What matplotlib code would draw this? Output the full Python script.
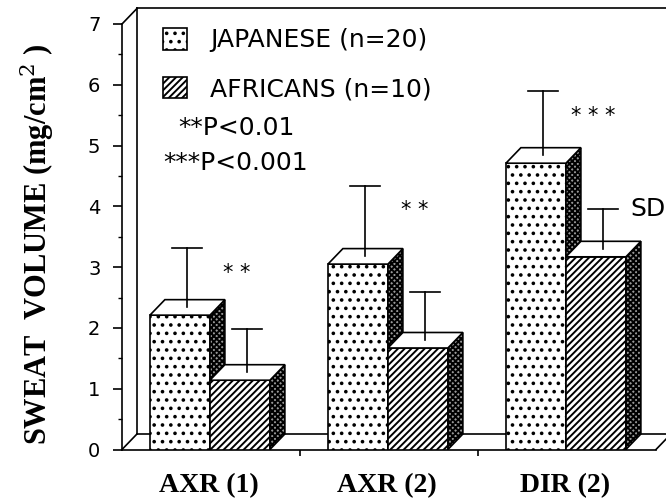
import matplotlib
matplotlib.use('Agg')
import matplotlib.pyplot as plt
import numpy as np
from matplotlib.patches import Rectangle, Polygon, Patch
from matplotlib.ticker import MultipleLocator

plt.rcParams.update({'font.family': 'DejaVu Sans', 'hatch.linewidth': 1.4})

# data
groups = ['AXR (1)', 'AXR (2)', 'DIR (2)']
japanese_mean = [2.21, 3.05, 4.71]
japanese_sd = [1.10, 1.29, 1.18]
african_mean = [1.14, 1.67, 3.17]
african_sd = [0.84, 0.92, 0.79]
signif = ['* *', '* *', '* * *']
series_labels = ['JAPANESE (n=20)', 'AFRICANS (n=10)']

# pseudo-3D depth offset (data units) and bar geometry
DX, DY = 0.084, 0.255
BAR_W = 0.337
CAP = 0.084
LW = 1.2

fig = plt.figure(figsize=(6.66, 5.01), dpi=100)
ax = fig.add_axes([122 / 666, 51.5 / 501, 534 / 666, 425.5 / 501])
ax.set_xlim(0, 3)
ax.set_ylim(0, 7)

# back wall and floor
line_kw = dict(color='black', lw=LW, clip_on=False, zorder=1)
ax.plot([0, DX], [7, 7 + DY], **line_kw)
ax.plot([0, DX], [0, DY], **line_kw)
ax.plot([DX, DX], [DY, 7 + DY], **line_kw)
ax.plot([DX, 3 + DX + 0.2], [7 + DY, 7 + DY], **line_kw)
ax.plot([DX, 3 + DX], [DY, DY], **line_kw)
ax.plot([3, 3 + DX], [0, DY], **line_kw)


def draw_bar(x, h, hatch):
    front = Rectangle((x, 0), BAR_W, h, facecolor='white', edgecolor='black',
                      hatch=hatch, lw=LW, zorder=3)
    top = Polygon([(x, h), (x + BAR_W, h), (x + BAR_W + DX, h + DY), (x + DX, h + DY)],
                  closed=True, facecolor='white', edgecolor='black', lw=LW, zorder=3)
    side = Polygon([(x + BAR_W, 0), (x + BAR_W + DX, DY), (x + BAR_W + DX, h + DY), (x + BAR_W, h)],
                   closed=True, facecolor='0.6', edgecolor='black', hatch='xxxxxx',
                   lw=LW, zorder=3)
    ax.add_patch(front)
    ax.add_patch(side)
    ax.add_patch(top)


def draw_sd(x, h, sd):
    xc = x + BAR_W / 2 + DX / 2
    ax.plot([xc, xc], [h + DY / 2, h + sd], color='black', lw=LW, zorder=4)
    ax.plot([xc - CAP, xc + CAP], [h + sd, h + sd], color='black', lw=LW, zorder=4)


for i in range(len(groups)):
    xj = i + 0.157
    xa = xj + BAR_W
    draw_bar(xj, japanese_mean[i], '..')
    draw_bar(xa, african_mean[i], '/////')
    draw_sd(xj, japanese_mean[i], japanese_sd[i])
    draw_sd(xa, african_mean[i], african_sd[i])
    ax.text(i + 0.645, japanese_mean[i] + japanese_sd[i] - 0.40, signif[i],
            ha='center', va='center', fontsize=15)

ax.text(2.854, african_mean[2] + african_sd[2], 'SD', ha='left', va='center', fontsize=18)

# axes styling
for s in ['top', 'right']:
    ax.spines[s].set_visible(False)
for s in ['left', 'bottom']:
    ax.spines[s].set_linewidth(LW)
ax.yaxis.set_major_locator(MultipleLocator(1))
ax.yaxis.set_minor_locator(MultipleLocator(0.5))
ax.tick_params(axis='y', which='major', direction='out', length=6.5, width=LW,
               pad=9, labelsize=14)
ax.tick_params(axis='y', which='minor', direction='out', length=3, width=1)
ax.set_xticks([1, 2])
ax.set_xticklabels([])
ax.tick_params(axis='x', which='major', direction='out', length=4, width=LW)
ax.set_xticks([i + 0.49 for i in range(len(groups))], minor=True)
ax.set_xticklabels(groups, minor=True, fontsize=20, fontweight='bold',
                   family='Liberation Serif')
ax.tick_params(axis='x', which='minor', length=0, pad=17)

fig.text(37 / 666, 1 - 244 / 501, 'SWEAT  VOLUME (mg/cm$^{2}$ )', rotation=90,
         ha='center', va='center', fontsize=22, fontweight='bold', family='Liberation Serif',
         math_fontfamily='dejavuserif')

# legend
handles = [Patch(facecolor='white', edgecolor='black', hatch='..', lw=LW),
           Patch(facecolor='white', edgecolor='black', hatch='/////', lw=LW)]
ax.legend(handles, series_labels, loc='upper left', bbox_to_anchor=(0.058, 1.014),
          frameon=False, fontsize=18, handlelength=0.95, handleheight=0.95,
          labelspacing=0.98, handletextpad=0.95, borderaxespad=0.0)
ax.text((178 - 122) / 178, (449.5 - 128) / 60.79, '**P<0.01',
        ha='left', va='center', fontsize=18)
ax.text((163 - 122) / 178, (449.5 - 163) / 60.79, '***P<0.001',
        ha='left', va='center', fontsize=18)

fig.savefig('out.png', dpi=100)
